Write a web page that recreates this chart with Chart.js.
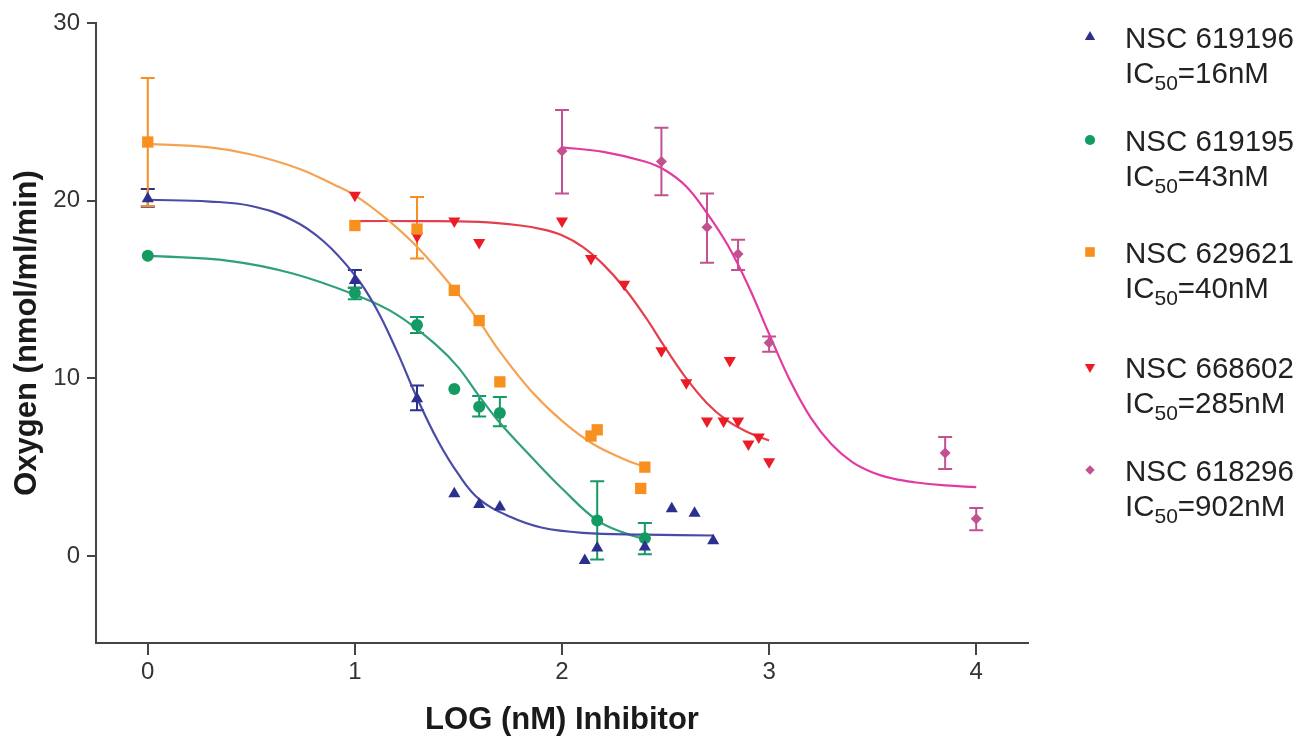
<!DOCTYPE html>
<html lang="en">
<head>
  <meta charset="UTF-8" />
  <title>Oxygen consumption vs inhibitor</title>
  <style>
    html, body { margin: 0; padding: 0; background: #fff; }
    #wrap { width: 1303px; height: 736px; position: relative; }
  </style>
</head>
<body>
  <div id="wrap"><canvas id="chart"></canvas></div>

  <script src="https://cdn.jsdelivr.net/npm/chart.js@4/dist/chart.umd.min.js"></script>
  <script>
    // ---- measured points (x = LOG nM inhibitor, y = oxygen nmol/ml/min) ----
    const blueX = [0, 1, 1.3, 1.48, 1.6, 1.7, 2.11, 2.17, 2.4, 2.53, 2.64, 2.73];
    const blueY = [20.1, 15.5, 8.85, 3.5, 2.9, 2.75, -0.25, 0.45, 0.5, 2.65, 2.4, 0.85];
    const blueErr = [[19.65, 20.65], [15.1, 16.1], [8.2, 9.6], null, null, null, null, null, null, null, null, null];

    const greenX = [0, 1, 1.3, 1.48, 1.6, 1.7, 2.17, 2.4];
    const greenY = [16.9, 14.8, 13.0, 9.4, 8.4, 8.05, 2.0, 1.0];
    const greenErr = [null, [14.45, 15.1], [12.55, 13.45], null, [7.85, 9.0], [7.3, 8.95], [-0.2, 4.2], [0.1, 1.85]];

    const orangeX = [0, 1, 1.3, 1.48, 1.6, 1.7, 2.14, 2.17, 2.4, 2.38];
    const orangeY = [23.3, 18.6, 18.4, 14.95, 13.25, 9.8, 6.75, 7.1, 5.0, 3.8];
    const orangeErr = [[19.7, 26.9], null, [16.75, 20.2], null, null, null, null, null, null, null];

    const redX = [1, 1.3, 1.48, 1.6, 2.0, 2.14, 2.3, 2.48, 2.6, 2.7, 2.78, 2.81, 2.85, 2.9, 2.95, 3.0];
    const redY = [20.3, 18.0, 18.85, 17.65, 18.85, 16.75, 15.3, 11.55, 9.75, 7.6, 7.6, 11.0, 7.6, 6.3, 6.7, 5.3];

    const pinkX = [2.0, 2.48, 2.7, 2.85, 3.0, 3.85, 4.0];
    const pinkY = [22.8, 22.2, 18.5, 17.0, 12.0, 5.8, 2.1];
    const pinkErr = [[20.4, 25.1], [20.3, 24.1], [16.5, 20.4], [16.1, 17.8], [11.5, 12.35], [4.9, 6.7], [1.45, 2.7]];

    // ---- fitted curves ----
    const blueFitX = [0, 0.3, 0.5, 0.7, 0.85, 1.0, 1.1, 1.2, 1.3, 1.4, 1.5, 1.6, 1.75, 1.9, 2.1, 2.4, 2.73];
    const blueFitY = [20.05, 19.95, 19.7, 18.9, 17.7, 15.8, 14.0, 11.6, 8.9, 6.5, 4.6, 3.2, 2.2, 1.6, 1.3, 1.2, 1.15];

    const greenFitX = [0, 0.4, 0.7, 1.0, 1.2, 1.4, 1.5, 1.6, 1.7, 1.85, 2.0, 2.17, 2.3, 2.4];
    const greenFitY = [16.9, 16.6, 15.9, 14.7, 13.6, 11.8, 10.6, 9.0, 7.5, 5.6, 3.8, 2.0, 1.3, 0.95];

    const orangeFitX = [0, 0.3, 0.5, 0.73, 0.9, 1.0, 1.15, 1.3, 1.48, 1.6, 1.7, 1.85, 2.0, 2.15, 2.3, 2.4];
    const orangeFitY = [23.2, 23.0, 22.6, 21.8, 20.9, 20.3, 19.0, 17.4, 15.0, 13.2, 11.5, 9.3, 7.6, 6.3, 5.45, 5.0];

    const redFitX = [1.0, 1.3, 1.6, 1.8, 1.9, 2.0, 2.1, 2.2, 2.3, 2.4, 2.5, 2.6, 2.7, 2.8, 2.9, 3.0];
    const redFitY = [18.85, 18.85, 18.8, 18.6, 18.4, 18.05, 17.4, 16.4, 15.1, 13.5, 11.7, 10.0, 8.6, 7.6, 6.95, 6.5];

    const pinkFitX = [2.0, 2.2, 2.4, 2.5, 2.6, 2.7, 2.8, 2.9, 3.0, 3.1, 3.2, 3.3, 3.4, 3.5, 3.6, 3.7, 3.85, 4.0];
    const pinkFitY = [23.0, 22.75, 22.2, 21.7, 20.8, 19.3, 17.5, 15.2, 12.5, 9.9, 7.8, 6.3, 5.3, 4.7, 4.35, 4.15, 3.97, 3.87];

    const xTicks = [0, 1, 2, 3, 4];
    const yTicks = [0, 10, 20, 30];

    const names = ['NSC 619196', 'NSC 619195', 'NSC 629621', 'NSC 668602', 'NSC 618296'];
    const ic50 = ['16nM', '43nM', '40nM', '285nM', '902nM'];

    const FONT = '"Liberation Sans", Arial, sans-serif';

    const pts = (xs, ys) => xs.map((x, i) => ({ x: x, y: ys[i] }));

    const series = [
      { x: blueX, y: blueY, err: blueErr, fx: blueFitX, fy: blueFitY,
        pc: '#2b2f8e', lc: '#4a4ba6', style: 'triangle', rot: 0, r: 7 },
      { x: greenX, y: greenY, err: greenErr, fx: greenFitX, fy: greenFitY,
        pc: '#149a63', lc: '#2fa079', style: 'circle', rot: 0, r: 6 },
      { x: orangeX, y: orangeY, err: orangeErr, fx: orangeFitX, fy: orangeFitY,
        pc: '#f7901e', lc: '#f5a352', style: 'rect', rot: 0, r: 8 },
      { x: redX, y: redY, err: null, fx: redFitX, fy: redFitY,
        pc: '#ec1c27', lc: '#e2404e', style: 'triangle', rot: 180, r: 7 },
      { x: pinkX, y: pinkY, err: pinkErr, fx: pinkFitX, fy: pinkFitY,
        pc: '#c2528f', lc: '#e33aa1', style: 'rectRot', rot: 0, r: 5.5 }
    ];

    const datasets = [];
    series.forEach(s => {
      datasets.push({
        data: pts(s.x, s.y),
        errorBars: s.err,
        showLine: false,
        pointStyle: s.style,
        rotation: s.rot,
        pointRadius: s.r,
        pointHoverRadius: s.r,
        pointBackgroundColor: s.pc,
        pointBorderColor: s.pc,
        pointBorderWidth: 0,
        order: 0
      });
    });
    series.forEach(s => {
      datasets.push({
        data: pts(s.fx, s.fy),
        showLine: true,
        borderColor: s.lc,
        borderWidth: 2.2,
        pointRadius: 0,
        tension: 0.4,
        fill: false,
        order: 1
      });
    });

    // error bars with caps, positioned through the chart scales
    const errorBarPlugin = {
      id: 'errorBars',
      beforeDatasetsDraw(chart) {
        const ctx = chart.ctx;
        const xs = chart.scales.x, ys = chart.scales.y;
        chart.data.datasets.forEach(ds => {
          if (!ds.errorBars) return;
          ctx.save();
          ctx.strokeStyle = ds.pointBackgroundColor;
          ctx.lineWidth = 2;
          ds.data.forEach((p, i) => {
            const e = ds.errorBars[i];
            if (!e) return;
            const px = xs.getPixelForValue(p.x);
            const lo = ys.getPixelForValue(e[0]);
            const hi = ys.getPixelForValue(e[1]);
            ctx.beginPath();
            ctx.moveTo(px, lo); ctx.lineTo(px, hi);
            ctx.moveTo(px - 7, lo); ctx.lineTo(px + 7, lo);
            ctx.moveTo(px - 7, hi); ctx.lineTo(px + 7, hi);
            ctx.stroke();
          });
          ctx.restore();
        });
      }
    };

    // legend on the right with subscript 50
    const sideLegend = {
      id: 'sideLegend',
      afterDraw(chart) {
        const ctx = chart.ctx;
        const rows = [37, 140, 252, 367, 470];
        ctx.save();
        ctx.textBaseline = 'alphabetic';
        rows.forEach((y0, i) => {
          const s = series[i];
          ctx.fillStyle = s.pc;
          ctx.strokeStyle = s.pc;
          Chart.helpers.drawPoint(ctx, {
            pointStyle: s.style, rotation: s.rot, radius: s.r * 0.85, borderWidth: 0
          }, 1090, y0);

          ctx.fillStyle = '#222';
          ctx.font = '29.5px ' + FONT;
          const bx = 1125;
          ctx.fillText(names[i], bx, y0 + 10.5);
          const by = y0 + 46;
          ctx.fillText('IC', bx, by);
          let w = ctx.measureText('IC').width;
          ctx.font = '21px ' + FONT;
          ctx.fillText('50', bx + w, by + 7);
          w += ctx.measureText('50').width;
          ctx.font = '29.5px ' + FONT;
          ctx.fillText('=' + ic50[i], bx + w, by);
        });
        ctx.restore();
      }
    };

    const axisColor = '#444';

    new Chart(document.getElementById('chart'), {
      type: 'scatter',
      data: { datasets: datasets },
      plugins: [errorBarPlugin, sideLegend],
      options: {
        responsive: true,
        maintainAspectRatio: false,
        animation: false,
        layout: { padding: { left: 0, top: 23, right: 275, bottom: 0 } },
        plugins: {
          legend: { display: false },
          tooltip: { enabled: false }
        },
        scales: {
          x: {
            type: 'linear',
            min: -0.25,
            max: 4.25,
            afterBuildTicks: s => { s.ticks = xTicks.map(v => ({ value: v })); },
            afterFit: s => { s.height = 93; },
            grid: { display: true, drawOnChartArea: false, drawTicks: true, tickLength: 12, color: axisColor, lineWidth: 2 },
            border: { display: true, color: axisColor, width: 2 },
            ticks: { color: '#333', padding: 3, font: { family: FONT, size: 24 }, callback: v => v },
            title: {
              display: true, text: 'LOG (nM) Inhibitor', color: '#1a1a1a',
              font: { family: FONT, size: 31, weight: 'bold', lineHeight: 1 },
              padding: { top: 0, bottom: 0 }
            }
          },
          y: {
            type: 'linear',
            min: -4.9,
            max: 30,
            afterBuildTicks: s => { s.ticks = yTicks.map(v => ({ value: v })); },
            afterFit: s => { s.width = 96; },
            grid: { display: true, drawOnChartArea: false, drawTicks: true, tickLength: 9, color: axisColor, lineWidth: 2 },
            border: { display: true, color: axisColor, width: 2 },
            ticks: { color: '#333', padding: 7, font: { family: FONT, size: 24 }, callback: v => v },
            title: {
              display: true, text: 'Oxygen (nmol/ml/min)', color: '#1a1a1a',
              font: { family: FONT, size: 31, weight: 'bold', lineHeight: 1 },
              padding: { top: 12, bottom: 0 }
            }
          }
        }
      }
    });
  </script>
</body>
</html>
